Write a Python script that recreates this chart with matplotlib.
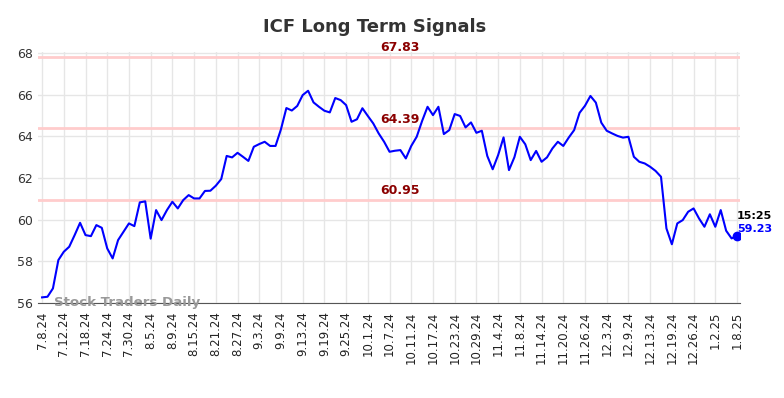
import numpy as np
import matplotlib
matplotlib.use("Agg")
import matplotlib.pyplot as plt

# Tick labels every 4 trading days
tick_labels = ["7.8.24", "7.12.24", "7.18.24", "7.24.24", "7.30.24", "8.5.24", "8.9.24",
               "8.15.24", "8.21.24", "8.27.24", "9.3.24", "9.9.24", "9.13.24", "9.19.24",
               "9.25.24", "10.1.24", "10.7.24", "10.11.24", "10.17.24", "10.23.24",
               "10.29.24", "11.4.24", "11.8.24", "11.14.24", "11.20.24", "11.26.24",
               "12.3.24", "12.9.24", "12.13.24", "12.19.24", "12.26.24", "1.2.25", "1.8.25"]

# Daily closes
prices = [56.27, 56.30, 56.70, 58.06, 58.46, 58.70, 59.26, 59.85, 59.26, 59.21,
          59.74, 59.61, 58.62, 58.14, 59.02, 59.42, 59.82, 59.69, 60.83, 60.88,
          59.09, 60.46, 59.98, 60.46, 60.86, 60.54, 60.94, 61.18, 61.02, 61.02,
          61.38, 61.39, 61.63, 61.95, 63.06, 62.99, 63.21, 63.02, 62.82, 63.50,
          63.63, 63.74, 63.54, 63.54, 64.34, 65.36, 65.24, 65.46, 65.98, 66.19,
          65.63, 65.42, 65.23, 65.15, 65.84, 65.74, 65.50, 64.70, 64.82, 65.35,
          64.98, 64.62, 64.14, 63.74, 63.26, 63.31, 63.34, 62.94, 63.54, 63.98,
          64.74, 65.42, 65.02, 65.42, 64.11, 64.30, 65.07, 64.98, 64.43, 64.67,
          64.17, 64.27, 63.06, 62.42, 63.10, 63.95, 62.38, 63.00, 63.98, 63.62,
          62.86, 63.30, 62.78, 62.99, 63.42, 63.74, 63.54, 63.94, 64.30, 65.13,
          65.47, 65.94, 65.62, 64.66, 64.27, 64.14, 64.02, 63.94, 63.98, 63.02,
          62.78, 62.70, 62.54, 62.34, 62.06, 59.58, 58.82, 59.82, 59.98, 60.38,
          60.54, 60.06, 59.66, 60.26, 59.66, 60.46, 59.47, 59.10, 59.23]

levels = [67.83, 64.39, 60.95]
last_time = "15:25"

x = np.arange(len(prices))

fig = plt.figure(figsize=(7.84, 3.98), dpi=100)
ax = fig.add_axes([38 / 784, 1 - 303 / 398, 702 / 784, 251 / 398])

ax.plot(x, prices, color="#0000ff", linewidth=1.5, zorder=3)

# signal levels
for lv in levels:
    ax.axhline(lv, color="#ffcccc", linewidth=2, zorder=2)
    ax.text(65.9, lv + 0.12, f"{lv:.2f}", color="#8b0000",
            fontsize=9, fontweight="bold", ha="center", va="bottom", zorder=4)

# last point marker
ax.plot(x[-1], prices[-1], "o", color="#0000ff", markersize=6, zorder=4)
ax.text(x[-1], prices[-1] + 0.95, last_time, color="#000000", fontsize=8,
        fontweight="bold", ha="left", va="center")
ax.text(x[-1], prices[-1] + 0.3, f"{prices[-1]:.2f}", color="#0000ff", fontsize=8,
        fontweight="bold", ha="left", va="center")

ax.text(2.2, 56.0, "Stock Traders Daily", color="#999999", fontsize=9.6,
        fontweight="bold", ha="left", va="center", zorder=5)

ax.set_xlim(-0.75, 128.55)
ax.set_ylim(56, 68.05)
ax.set_yticks(np.arange(56, 69, 2))
ax.set_xticks(np.arange(0, len(prices), 4))
ax.set_xticklabels(tick_labels, rotation=90, fontsize=8.5)
ax.tick_params(axis="y", labelsize=9, colors="#333333", length=0)
ax.tick_params(axis="x", colors="#222222", length=0, pad=6)
ax.grid(True, color="#e6e6e6", linewidth=1)
ax.set_axisbelow(True)
for s in ["top", "right", "left"]:
    ax.spines[s].set_visible(False)
ax.spines["bottom"].set_color("#555555")

fig.text(375 / 784, 1 - 27 / 398, "ICF Long Term Signals", fontsize=13,
         fontweight="bold", color="#333333", ha="center", va="center")

fig.savefig("out.png", dpi=100)
